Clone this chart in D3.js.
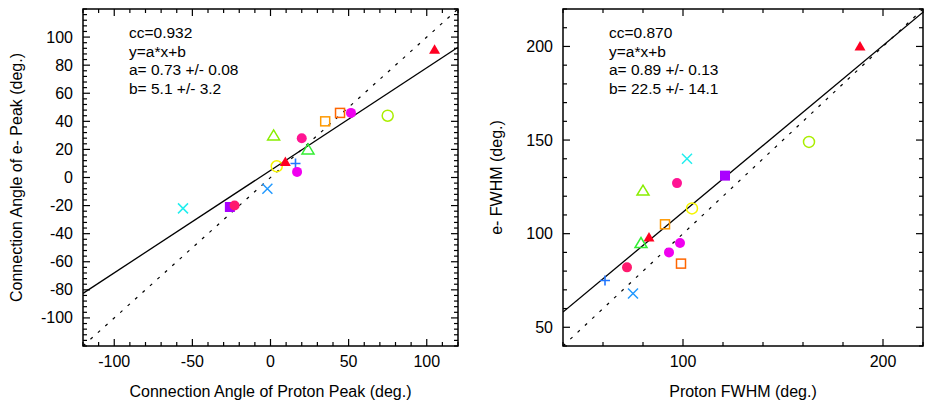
<!DOCTYPE html>
<html><head><meta charset="utf-8">
<script src="https://cdn.jsdelivr.net/npm/d3@7"></script>
<style>
body{margin:0;background:#fff;}
svg text{font-family:"Liberation Sans",Arial,Helvetica,sans-serif;fill:#000;}
</style></head>
<body><svg id="c" width="925" height="410"></svg>
<script>
// ---- data ----
const symbols = ["x","square","circle","x","ocircle","triangle","plus","circle","otriangle","otriangle","circle","osquare","osquare","circle","ocircle","triangle"];
const colors  = ["#22EEEE","#AA00FF","#FF1A6E","#2299FF","#F5F500","#FF0022","#2277FF","#F000F0","#33EE33","#88EE00","#FF1493","#FF9900","#FF6600","#F000F0","#AAEE00","#FF0022"];
const peakProton = [-56,-26,-23,-2,4,9.5,16,17,24,2,20,35,44.5,51.5,75,105];
const peakElectron = [-22,-21,-20,-8,8,11,10,4,20,30,28,40,46,46,44,91];
const fwhmProton = [102,121,72,75,104.5,83,61,93,79,80,97,91,99,98.5,163,188.5];
const fwhmElectron = [140,131,82,68,113.5,98,75,90,95,123,127,105,84,95,149,200];
const leftXTicks = [-100,-50,0,50,100];
const leftYTicks = [-100,-80,-60,-40,-20,0,20,40,60,80,100];
const rightXTicks = [100,200];
const rightYTicks = [50,100,150,200];
const leftFit = {a:0.73, b:5.1};
const rightFit = {a:0.89, b:22.5};
const leftText = ["cc=0.932","y=a*x+b","a= 0.73 +/- 0.08","b= 5.1 +/- 3.2"];
const rightText = ["cc=0.870","y=a*x+b","a= 0.89 +/- 0.13","b= 22.5 +/- 14.1"];

const svg = d3.select("#c");

function panel(opt){
  const {x0,x1,y0,y1,dom,xs,ys,xMaj,yMaj,xMinStep,yMinStep,fit,texts,xTitle,yTitle,yTitleX,id} = opt;
  const x = d3.scaleLinear().domain(dom).range([x0,x1]);
  const y = d3.scaleLinear().domain(dom).range([y1,y0]);
  const g = svg.append("g");
  g.append("clipPath").attr("id",id).append("rect").attr("x",x0).attr("y",y0).attr("width",x1-x0).attr("height",y1-y0);
  const lg = g.append("g").attr("clip-path",`url(#${id})`);
  lg.append("line").attr("x1",x(dom[0])).attr("y1",y(dom[0])).attr("x2",x(dom[1])).attr("y2",y(dom[1]))
    .attr("stroke","#000").attr("stroke-width",1.2).attr("stroke-dasharray","3,7");
  lg.append("line").attr("x1",x(dom[0])).attr("y1",y(fit.a*dom[0]+fit.b)).attr("x2",x(dom[1])).attr("y2",y(fit.a*dom[1]+fit.b))
    .attr("stroke","#000").attr("stroke-width",1.3);
  const tg = g.append("g").attr("stroke","#000").attr("stroke-width",1.2);
  const xMinor = d3.range(Math.ceil(dom[0]/xMinStep)*xMinStep, dom[1]+1e-9, xMinStep);
  const yMinor = d3.range(Math.ceil(dom[0]/yMinStep)*yMinStep, dom[1]+1e-9, yMinStep);
  xMinor.forEach(v=>{
    const L = xMaj.includes(v)?7:4;
    tg.append("line").attr("x1",x(v)).attr("x2",x(v)).attr("y1",y1).attr("y2",y1-L);
    tg.append("line").attr("x1",x(v)).attr("x2",x(v)).attr("y1",y0).attr("y2",y0+L);
  });
  yMinor.forEach(v=>{
    const L = yMaj.includes(v)?7:4;
    tg.append("line").attr("y1",y(v)).attr("y2",y(v)).attr("x1",x0).attr("x2",x0+L);
    tg.append("line").attr("y1",y(v)).attr("y2",y(v)).attr("x1",x1).attr("x2",x1-L);
  });
  g.append("rect").attr("x",x0).attr("y",y0).attr("width",x1-x0).attr("height",y1-y0)
    .attr("fill","none").attr("stroke","#000").attr("stroke-width",1.5);
  xMaj.forEach(v=>g.append("text").attr("x",x(v)).attr("y",y1+21).attr("text-anchor","middle").attr("font-size",16).text(v));
  yMaj.forEach(v=>g.append("text").attr("x",x0-10).attr("y",y(v)+5.5).attr("text-anchor","end").attr("font-size",16).text(v));
  g.append("text").attr("x",(x0+x1)/2).attr("y",397).attr("text-anchor","middle").attr("font-size",16).text(xTitle);
  g.append("text").attr("transform",`translate(${yTitleX},${(y0+y1)/2}) rotate(-90)`).attr("text-anchor","middle").attr("font-size",16).text(yTitle);
  texts.forEach((t,i)=>g.append("text").attr("x",x0+46).attr("y",38+i*18.5).attr("font-size",15.5).text(t));
  const pg = g.append("g");
  xs.forEach((xv,i)=>{
    const cx=x(xv), cy=y(ys[i]), c=colors[i], s=symbols[i];
    if(s==="circle") pg.append("circle").attr("cx",cx).attr("cy",cy).attr("r",5).attr("fill",c);
    else if(s==="ocircle") pg.append("circle").attr("cx",cx).attr("cy",cy).attr("r",5.5).attr("fill","none").attr("stroke",c).attr("stroke-width",1.5);
    else if(s==="square") pg.append("rect").attr("x",cx-5).attr("y",cy-5).attr("width",10).attr("height",10).attr("fill",c);
    else if(s==="osquare") pg.append("rect").attr("x",cx-4.5).attr("y",cy-4.5).attr("width",9).attr("height",9).attr("fill","none").attr("stroke",c).attr("stroke-width",1.5);
    else if(s==="triangle") pg.append("path").attr("d",`M${cx-5.5},${cy+4}L${cx+5.5},${cy+4}L${cx},${cy-5.5}Z`).attr("fill",c);
    else if(s==="otriangle") pg.append("path").attr("d",`M${cx-6},${cy+4.5}L${cx+6},${cy+4.5}L${cx},${cy-5.5}Z`).attr("fill","none").attr("stroke",c).attr("stroke-width",1.5);
    else if(s==="x") pg.append("path").attr("d",`M${cx-5},${cy-5}L${cx+5},${cy+5}M${cx-5},${cy+5}L${cx+5},${cy-5}`).attr("stroke",c).attr("stroke-width",1.5);
    else if(s==="plus") pg.append("path").attr("d",`M${cx-5},${cy}L${cx+5},${cy}M${cx},${cy-5}L${cx},${cy+5}`).attr("stroke",c).attr("stroke-width",1.6);
  });
}

panel({id:"cl",x0:83,x1:458,y0:9,y1:346,dom:[-120,120],xs:peakProton,ys:peakElectron,
  xMaj:leftXTicks,yMaj:leftYTicks,xMinStep:10,yMinStep:4,fit:leftFit,texts:leftText,
  xTitle:"Connection Angle of Proton Peak (deg.)",yTitle:"Connection Angle of e- Peak (deg.)",yTitleX:22});
panel({id:"cr",x0:563,x1:923,y0:9,y1:346,dom:[40,220],xs:fwhmProton,ys:fwhmElectron,
  xMaj:rightXTicks,yMaj:rightYTicks,xMinStep:20,yMinStep:10,fit:rightFit,texts:rightText,
  xTitle:"Proton FWHM (deg.)",yTitle:"e- FWHM (deg.)",yTitleX:502});
</script></body></html>
